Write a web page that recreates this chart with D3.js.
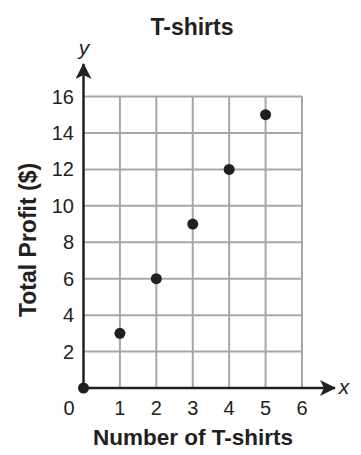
<!DOCTYPE html>
<html>
<head>
<meta charset="utf-8">
<script src="https://cdn.jsdelivr.net/npm/d3@7"></script>
<style>
	body { margin: 0; background: #fff; }
	svg { display: block; font-family: 'Liberation Sans', Arial, sans-serif; }
</style>
</head>
<body>
<div id="chart"></div>
<script>
// data
var shirts = [0, 1, 2, 3, 4, 5];
var profit = [0, 3, 6, 9, 12, 15];
var xTicks = [0, 1, 2, 3, 4, 5, 6];
var yTicks = [2, 4, 6, 8, 10, 12, 14, 16];

var width = 361;
var height = 455;

var x = d3.scaleLinear().domain([0, 6]).range([83.5, 302]);
var y = d3.scaleLinear().domain([0, 16]).range([388, 96.5]);

var svg = d3
	.select('#chart')
	.append('svg')
	.attr('width', width)
	.attr('height', height);

// grid
svg.append('g')
	.selectAll('line')
	.data(xTicks.slice(1))
	.enter()
	.append('line')
	.attr('x1', function(d){ return x(d); })
	.attr('x2', function(d){ return x(d); })
	.attr('y1', y(0))
	.attr('y2', y(16))
	.attr('stroke', '#a7a7a9')
	.attr('stroke-width', 2);

svg.append('g')
	.selectAll('line')
	.data(yTicks)
	.enter()
	.append('line')
	.attr('x1', x(0))
	.attr('x2', x(6))
	.attr('y1', function(d){ return y(d); })
	.attr('y2', function(d){ return y(d); })
	.attr('stroke', '#a7a7a9')
	.attr('stroke-width', 2);

// axes with arrows
svg.append('defs')
	.append('marker')
	.attr('id', 'arrow')
	.attr('viewBox', '0 0 16 16')
	.attr('refX', 15)
	.attr('refY', 8)
	.attr('markerWidth', 16)
	.attr('markerHeight', 16)
	.attr('markerUnits', 'userSpaceOnUse')
	.attr('orient', 'auto')
	.append('path')
	.attr('d', 'M0,0 L16,8 L0,16 L4,8 Z')
	.attr('fill', '#231f20');

svg.append('line')
	.attr('x1', x(0)).attr('x2', 335)
	.attr('y1', y(0)).attr('y2', y(0))
	.attr('stroke', '#231f20')
	.attr('stroke-width', 2.5)
	.attr('marker-end', 'url(#arrow)');

svg.append('line')
	.attr('x1', x(0)).attr('x2', x(0))
	.attr('y1', y(0)).attr('y2', 64)
	.attr('stroke', '#231f20')
	.attr('stroke-width', 2.5)
	.attr('marker-end', 'url(#arrow)');

// tick labels
svg.append('g')
	.selectAll('text')
	.data(xTicks)
	.enter()
	.append('text')
	.attr('x', function(d){ return d == 0 ? 69 : x(d); })
	.attr('y', 415)
	.attr('text-anchor', 'middle')
	.attr('font-size', 20)
	.attr('fill', '#231f20')
	.text(function(d){ return d; });

svg.append('g')
	.selectAll('text')
	.data(yTicks)
	.enter()
	.append('text')
	.attr('x', 74)
	.attr('y', function(d){ return y(d) + 7; })
	.attr('text-anchor', 'end')
	.attr('font-size', 20)
	.attr('fill', '#231f20')
	.text(function(d){ return d; });

// axis letters
svg.append('text')
	.attr('x', 344).attr('y', 394)
	.attr('text-anchor', 'middle')
	.attr('font-size', 21)
	.attr('font-style', 'italic')
	.attr('fill', '#231f20')
	.text('x');

svg.append('text')
	.attr('x', 84).attr('y', 55)
	.attr('text-anchor', 'middle')
	.attr('font-size', 21)
	.attr('font-style', 'italic')
	.attr('fill', '#231f20')
	.text('y');

// titles
svg.append('text')
	.attr('x', 192).attr('y', 35)
	.attr('text-anchor', 'middle')
	.attr('font-size', 23)
	.attr('font-weight', 'bold')
	.attr('fill', '#231f20')
	.text('T-shirts');

svg.append('text')
	.attr('x', 193).attr('y', 445)
	.attr('text-anchor', 'middle')
	.attr('font-size', 22.5)
	.attr('font-weight', 'bold')
	.attr('fill', '#231f20')
	.text('Number of T-shirts');

svg.append('text')
	.attr('transform', 'translate(36,240) rotate(-90)')
	.attr('text-anchor', 'middle')
	.attr('font-size', 23)
	.attr('font-weight', 'bold')
	.attr('fill', '#231f20')
	.text('Total Profit ($)');

// points
svg.append('g')
	.selectAll('circle')
	.data(shirts)
	.enter()
	.append('circle')
	.attr('cx', function(d){ return x(d); })
	.attr('cy', function(d, i){ return y(profit[i]); })
	.attr('r', 5.5)
	.attr('fill', '#231f20');
</script>
</body>
</html>
